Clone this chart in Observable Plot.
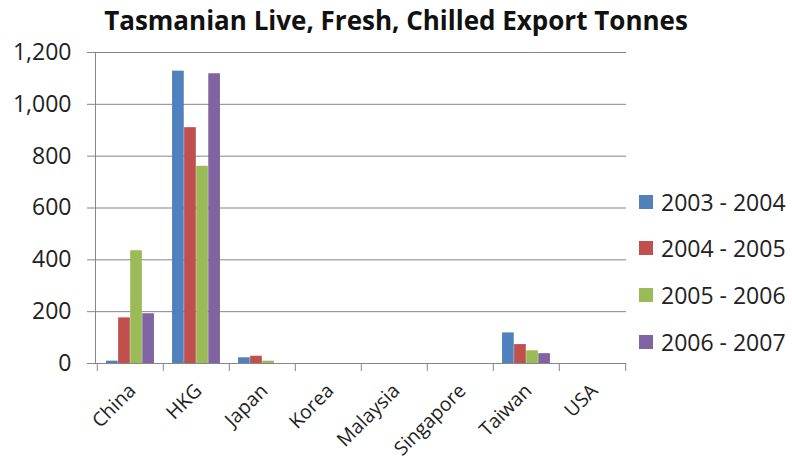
<!DOCTYPE html>
<html>
<head>
<meta charset="utf-8">
<script src="https://cdn.jsdelivr.net/npm/d3@7"></script>
<script src="https://cdn.jsdelivr.net/npm/@observablehq/plot@0.6"></script>
<style>
  html, body { margin: 0; padding: 0; background: #fff; }
  #wrap { position: relative; width: 792px; height: 460px; overflow: hidden; font-family: "Open Sans", sans-serif; color: #222; }
  #chart { position: absolute; left: 0; top: 30px; }
  #title { position: absolute; left: 0; top: 0; width: 792px; height: 40px; line-height: 40px; text-align: center; font-size: 26px; font-weight: bold; color: #111; z-index: 2; }
  #legend { position: absolute; left: 639px; top: 0; }
  .item { position: absolute; left: 0; display: flex; align-items: center; white-space: nowrap; font-size: 23px; height: 32px; }
  .sw { width: 14px; height: 14px; margin-right: 8px; }
</style>
</head>
<body>
<div id="wrap">
  <div id="chart"></div>
  <div id="title">Tasmanian Live, Fresh, Chilled Export Tonnes</div>
  <div id="legend"></div>
</div>
<script>
const categories = ["China", "HKG", "Japan", "Korea", "Malaysia", "Singapore", "Taiwan", "USA"];
const seriesNames = ["2003 - 2004", "2004 - 2005", "2005 - 2006", "2006 - 2007"];
const v2003_2004 = [9, 1128, 22, 0, 0, 0, 118, 0];
const v2004_2005 = [176, 910, 28, 0, 0, 0, 73, 0];
const v2005_2006 = [435, 761, 9, 0, 0, 0, 49, 0];
const v2006_2007 = [192, 1118, 0, 0, 0, 0, 38, 0];
const yTicks = [0, 200, 400, 600, 800, 1000, 1200];
const colors = ["#4F81BD", "#C0504D", "#9BBB59", "#8064A2"];

const seriesValues = [v2003_2004, v2004_2005, v2005_2006, v2006_2007];
const rows = [];
seriesNames.forEach((s, i) => categories.forEach((c, j) => rows.push({series: s, category: c, value: seriesValues[i][j]})));

const W = 792, H = 430, mL = 95, mR = 166, mT = 22, mB = 97;
const step = (W - mL - mR) / categories.length;
const bw = step / 5.5, pad = bw * 0.75;
const gray = "#868686";

const chart = Plot.plot({
  width: W, height: H,
  marginLeft: mL, marginRight: mR, marginTop: mT, marginBottom: mB,
  style: {fontFamily: "Open Sans, sans-serif", background: "transparent", overflow: "visible"},
  x: {domain: categories, padding: 0, label: null},
  y: {domain: [0, 1200], label: null},
  marks: [
    Plot.gridY(yTicks, {stroke: gray, strokeOpacity: 1}),
    Plot.frame({anchor: "left", stroke: gray}),
    ...seriesNames.map((s, i) => Plot.barY(rows.filter(r => r.series === s && r.value > 0), {
      x: "category", y: "value", fill: colors[i],
      insetLeft: pad + i * bw, insetRight: step - pad - (i + 1) * bw
    })),
    Plot.ruleY([0], {stroke: gray}),
    Plot.axisY(yTicks, {tickSize: 8, tickPadding: 16, tickFormat: d3.format(","), fontSize: 23, stroke: gray, fill: "#222"}),
    Plot.axisX(categories, {tickSize: 8, tickFormat: () => "", dx: -step / 2, stroke: gray}),
    Plot.axisX(["USA"], {tickSize: 8, tickFormat: () => "", dx: step / 2, stroke: gray}),
    Plot.axisX(categories, {tickSize: 0, tickRotate: -45, tickPadding: 24, dx: 2, fontSize: 19.5, fill: "#222"})
  ]
});
document.getElementById("chart").appendChild(chart);

const legendCenters = [202, 248, 295, 342];
const legend = document.getElementById("legend");
seriesNames.forEach((s, i) => {
  const it = document.createElement("div");
  it.className = "item";
  it.style.top = (legendCenters[i] - 16) + "px";
  it.innerHTML = `<div class="sw" style="background:${colors[i]}"></div><span>${s}</span>`;
  legend.appendChild(it);
});
</script>
</body>
</html>
